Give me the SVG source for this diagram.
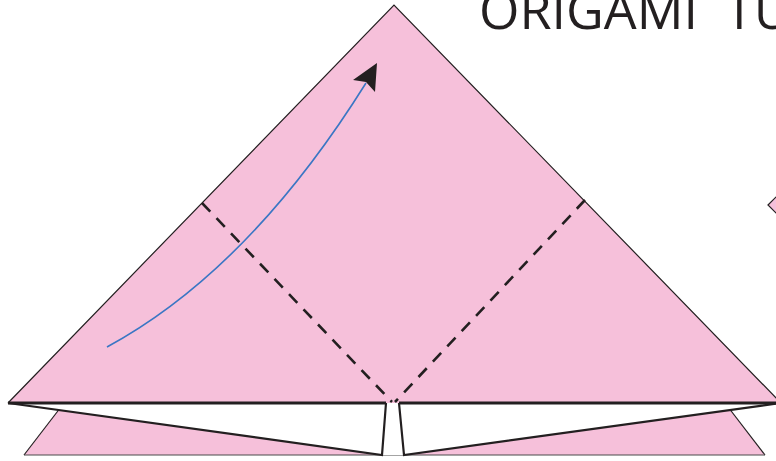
<svg xmlns="http://www.w3.org/2000/svg" width="776" height="461" viewBox="0 0 776 461">
<style>
.paper{fill:#F6C0DA;}
.edge{fill:none;stroke:#231F20;stroke-width:1.2;stroke-linejoin:miter;}
.flap{fill:none;stroke:#231F20;stroke-width:2.2;stroke-linejoin:miter;}
.base{stroke:#231F20;stroke-width:3;}
.fold{fill:none;stroke:#231F20;stroke-width:2.6;stroke-dasharray:12 9;}
.title{font-family:"Open Sans","Noto Sans",sans-serif;font-size:52px;fill:#231F20;}
</style>
<rect width="776" height="461" fill="#ffffff"/>
<g id="lower-layer">
<polygon class="paper" points="24,455 64,403 725,403 765,455"/>
<line x1="24" y1="455" x2="64" y2="403" class="edge"/>
<line x1="725" y1="403" x2="765" y2="455" class="edge"/>
<line x1="24" y1="455" x2="765" y2="455" stroke="#4a4a4a" stroke-width="1.2"/>
</g>
<g id="flaps">
<polygon points="8,403 781,403 404,455 382,455" fill="#ffffff"/>
<polyline class="flap" points="8,403 382,455 386,403"/>
<polyline class="flap" points="399,403 404,455 781,403"/>
</g>
<g id="main-paper">
<polygon class="paper" points="394,5 8,403 781,403"/>
<polyline class="edge" points="8,403 394,5 781,403"/>
<line class="base" x1="8" y1="403" x2="386" y2="403"/>
<line class="base" x1="399" y1="403" x2="781" y2="403"/>
</g>
<g id="side-diamond">
<polygon class="paper" points="768,205 778,195 788,205 778,215"/>
<polygon class="edge" points="768,205 778,195 788,205 778,215"/>
</g>
<g id="title">
<text class="title" y="29"><tspan x="479">ORIGAMI </tspan><tspan x="725">TU</tspan></text>
</g>
<g id="connectors">
<line class="fold" x1="202" y1="203" x2="392" y2="402"/>
<line class="fold" x1="585" y1="200" x2="395" y2="402"/>
<path d="M107,347 Q249,270 366,83" fill="none" stroke="#3A76C4" stroke-width="1.6"/>
<polygon points="377,63 353,80 366,82 375,92" fill="#231F20"/>
</g>
</svg>
